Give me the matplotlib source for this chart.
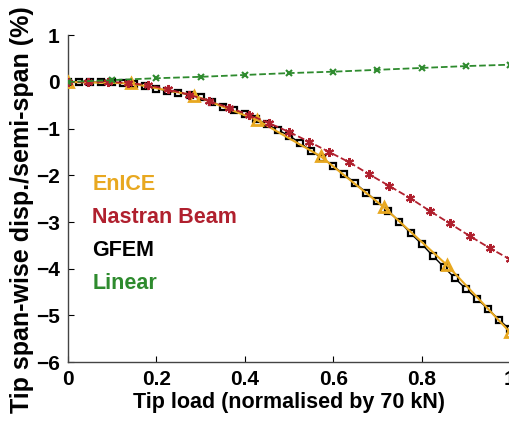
import numpy as np
import matplotlib
matplotlib.use("Agg")
import matplotlib.pyplot as plt

plt.rcParams['font.family'] = ['Liberation Sans', 'DejaVu Sans']
plt.rcParams['font.weight'] = 'bold'

# GFEM (step 0.025)
gfem_x = np.linspace(0, 1, 41)
gfem_y = [0, 0, 0, -0.01, -0.01, -0.02, -0.04, -0.08, -0.14, -0.19,
          -0.23, -0.27, -0.33, -0.42, -0.53, -0.61, -0.69, -0.79, -0.91, -1.03,
          -1.15, -1.30, -1.48, -1.63, -1.80, -1.98, -2.17, -2.37, -2.56, -2.77,
          -2.99, -3.24, -3.47, -3.72, -3.96, -4.20, -4.43, -4.64, -4.86, -5.09,
          -5.30]

# EnICE (every 10 kN)
enice_x = np.linspace(0, 1, 8)
enice_y = [0, -0.03, -0.29, -0.82, -1.59, -2.68, -3.92, -5.36]

# Nastran Beam
nastran_x = np.linspace(0, 1, 23)
nastran_y = [0, 0, 0, -0.02, -0.07, -0.16, -0.27, -0.40, -0.55, -0.70,
             -0.88, -1.07, -1.28, -1.50, -1.72, -1.98, -2.23, -2.48, -2.76, -3.03,
             -3.30, -3.56, -3.80]

# Linear
linear_x = np.linspace(0, 1, 11)
linear_y = [0, 0.04, 0.08, 0.11, 0.15, 0.19, 0.22, 0.26, 0.30, 0.34, 0.37]

c_enice = '#E8A820'
c_nastran = '#B0202E'
c_gfem = 'black'
c_linear = '#2E8B2E'

fig = plt.figure(figsize=(5.1, 4.25), dpi=100)
ax = fig.add_axes([0.1333, 0.148, 0.8667, 0.769])

ax.plot(gfem_x, gfem_y, '-', color=c_gfem, lw=1.0, marker='s', ms=4.8,
        mfc='white', mec=c_gfem, mew=1.6, zorder=3)
ax.plot(enice_x, enice_y, '-', color=c_enice, lw=1.5, marker='^', ms=6.5,
        mfc='none', mec=c_enice, mew=2, zorder=4)
ax.plot(nastran_x, nastran_y, '--', color=c_nastran, lw=1.3,
        marker=(6, 2, 0), ms=6.5, mec=c_nastran, mew=1.5, zorder=5)
ax.plot(linear_x, linear_y, '--', color=c_linear, lw=1.3,
        marker='x', ms=5, mec=c_linear, mew=1.5, zorder=5)

ax.set_xlim(0, 1)
ax.set_ylim(-6, 1)
ax.set_xticks([0, 0.2, 0.4, 0.6, 0.8, 1])
ax.set_xticklabels(['0', '0.2', '0.4', '0.6', '0.8', '1'])
ax.set_yticks(range(-6, 2))
ax.tick_params(direction='in', length=4, labelsize=15, colors='black', pad=6)
for sp in ['top', 'right']:
    ax.spines[sp].set_visible(False)
for sp in ['left', 'bottom']:
    ax.spines[sp].set_color('#444444')
    ax.spines[sp].set_linewidth(1.0)

ax.set_xlabel('Tip load (normalised by 70 kN)', fontsize=15.5, fontweight='bold', labelpad=2)
ax.set_ylabel('Tip span-wise disp./semi-span (%)', fontsize=18, fontweight='bold')
ax.yaxis.set_label_coords(-0.077, 0.468)

labels = ['EnICE', 'Nastran Beam', 'GFEM', 'Linear']
colors = [c_enice, c_nastran, c_gfem, c_linear]
for i, (lab, col) in enumerate(zip(labels, colors)):
    ax.text(0.055, -2.19 - 0.71 * i, lab, color=col, fontsize=15.5,
            fontweight='bold', va='center', ha='left')

fig.savefig('out.png', dpi=100)
